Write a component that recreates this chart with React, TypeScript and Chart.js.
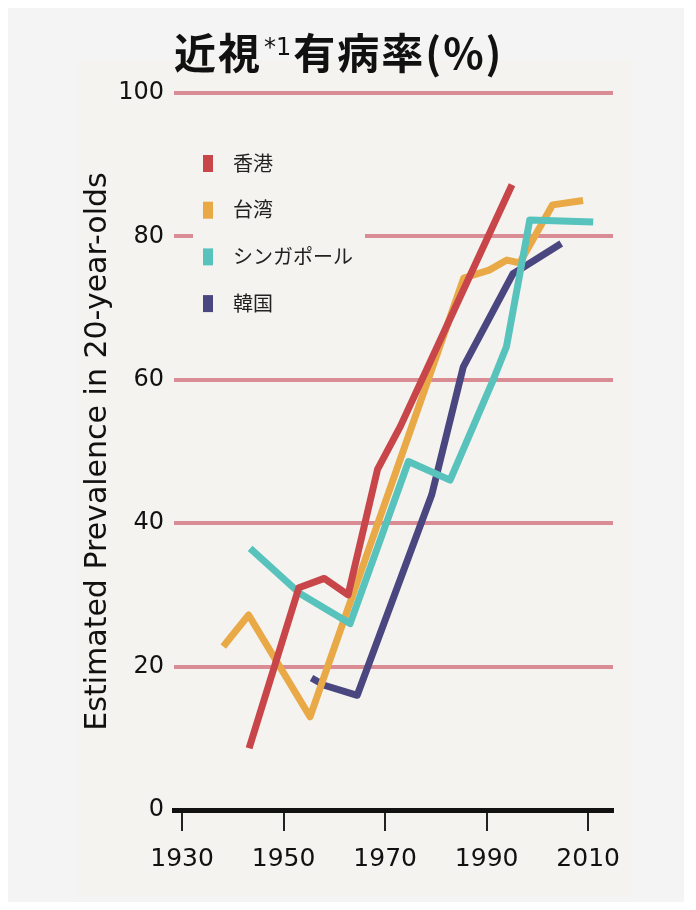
import React, { useEffect, useRef } from "react";
import { Chart, registerables } from "chart.js";

Chart.register(...registerables);

// ---- data ----
const seriesNames = ["香港", "台湾", "シンガポール", "韓国"];
const seriesColors = ["#c8464a", "#e8a946", "#57c3bc", "#4a4680"];

const hkYears = [1943.2, 1953, 1958, 1962.7, 1968.5, 1973, 1995];
const hkValues = [8.6, 31, 32.3, 30, 47.5, 53.5, 87.2];

const twYears = [1938.1, 1943.1, 1955.2, 1985.5, 1990.5, 1994, 1996.5, 2003, 2009];
const twValues = [22.8, 27.2, 13, 74.2, 75.3, 76.7, 76.3, 84.4, 85];

const sgYears = [1943.4, 1953.2, 1963.1, 1974.6, 1982.8, 1991.3, 1993.9, 1998.5, 2011];
const sgValues = [36.5, 30.2, 26, 48.6, 46, 60, 64.6, 82.3, 82];

const krYears = [1955.5, 1958, 1964.5, 1979.2, 1985.4, 1995.2, 2004.7];
const krValues = [18.4, 17.4, 16, 44, 61.8, 74.8, 79];

const xTickValues = [1930, 1950, 1970, 1990, 2010];
const yTitle = "Estimated Prevalence in 20-year-olds";

const OUTER_BG = "#f4f4f4";
const INNER_BG = "#f5f3ef";
const GRID = "#d98c93";

const zip = (xs: number[], ys: number[]) => xs.map((x, i) => ({ x, y: ys[i] }));

const legendPlugin = {
  id: "customLegend",
  beforeDatasetsDraw(chart: any) {
    const { ctx, chartArea } = chart;
    const left = chartArea.left;
    const top = chartArea.top;
    ctx.save();
    ctx.fillStyle = INNER_BG;
    ctx.fillRect(left + 19, top + 50, 172, 190);
    ctx.font = '20px "Noto Sans CJK JP"';
    ctx.textBaseline = "middle";
    ctx.textAlign = "left";
    seriesNames.forEach((name, i) => {
      const cy = top + 70 + i * 46.7;
      ctx.fillStyle = seriesColors[i];
      ctx.fillRect(left + 29, cy - 8, 10, 17);
      ctx.fillStyle = "#222";
      ctx.fillText(name, left + 59, cy);
    });
    ctx.restore();
  },
};

export default function App() {
  const canvasRef = useRef<HTMLCanvasElement | null>(null);

  useEffect(() => {
    const canvas = canvasRef.current;
    if (!canvas) return;
    const series = [
      { years: hkYears, values: hkValues, order: 0 },
      { years: twYears, values: twValues, order: 2 },
      { years: sgYears, values: sgValues, order: 1 },
      { years: krYears, values: krValues, order: 3 },
    ];
    const chart = new Chart(canvas, {
      type: "line",
      data: {
        datasets: series.map((s, i) => ({
          label: seriesNames[i],
          data: zip(s.years, s.values),
          borderColor: seriesColors[i],
          backgroundColor: seriesColors[i],
          borderWidth: 7,
          pointRadius: 0,
          tension: 0,
          borderJoinStyle: "round" as const,
          borderCapStyle: "butt" as const,
          order: s.order,
        })),
      },
      options: {
        animation: false,
        responsive: false,
        events: [],
        layout: { padding: { left: 68, right: 71, top: 85, bottom: 32 } },
        plugins: {
          legend: { display: false },
          tooltip: { enabled: false },
          title: { display: false },
        },
        scales: {
          x: {
            type: "linear",
            min: 1928.4,
            max: 2014.9,
            afterBuildTicks: (scale: any) => {
              scale.ticks = xTickValues.map((v) => ({ value: v }));
            },
            afterFit: (scale: any) => {
              scale.height = 60;
            },
            border: { display: true, color: "#111", width: 5 },
            grid: {
              drawOnChartArea: false,
              drawTicks: true,
              tickLength: 21,
              tickWidth: 2,
              tickColor: "#222",
              lineWidth: 2,
              color: "#222",
            },
            ticks: {
              padding: 13,
              color: "#111",
              font: { family: '"DejaVu Sans"', size: 25 },
              maxRotation: 0,
              autoSkip: false,
              callback: (v: any) => String(v),
            },
          },
          y: {
            type: "linear",
            min: 0,
            max: 100,
            afterFit: (scale: any) => {
              scale.width = 98;
            },
            border: { display: false },
            grid: {
              drawTicks: false,
              lineWidth: 4,
              color: (c: any) => (c.tick && c.tick.value === 0 ? "rgba(0,0,0,0)" : GRID),
            },
            ticks: {
              stepSize: 20,
              padding: 10,
              color: "#111",
              font: { family: '"DejaVu Sans"', size: 24 },
            },
            title: {
              display: true,
              text: yTitle,
              color: "#111",
              font: { family: '"DejaVu Sans"', size: 30 },
              padding: { top: 4, bottom: 4 },
            },
          },
        },
      },
      plugins: [legendPlugin],
    });
    return () => chart.destroy();
  }, []);

  return (
    <div
      style={{
        position: "relative",
        width: 676,
        height: 894,
        background: OUTER_BG,
      }}
    >
      <div
        style={{
          position: "absolute",
          left: 69,
          top: 52,
          width: 554,
          height: 837,
          background: INNER_BG,
        }}
      />
      <canvas
        ref={canvasRef}
        width={676}
        height={894}
        style={{ position: "absolute", left: 0, top: 0, width: 676, height: 894 }}
      />
      <div
        style={{
          position: "absolute",
          left: 166,
          top: 22,
          whiteSpace: "nowrap",
          fontFamily: '"Noto Sans CJK JP"',
          fontWeight: 700,
          fontSize: 42,
          lineHeight: 1,
          letterSpacing: 2,
          color: "#111",
        }}
      >
        近視
        <span
          style={{
            fontWeight: 400,
            fontSize: 24,
            letterSpacing: 0,
            fontFamily: '"DejaVu Sans", "Noto Sans CJK JP"',
            position: "relative",
            top: -14,
            margin: "0 2px",
          }}
        >
          *1
        </span>
        有病率(%)
      </div>
    </div>
  );
}
